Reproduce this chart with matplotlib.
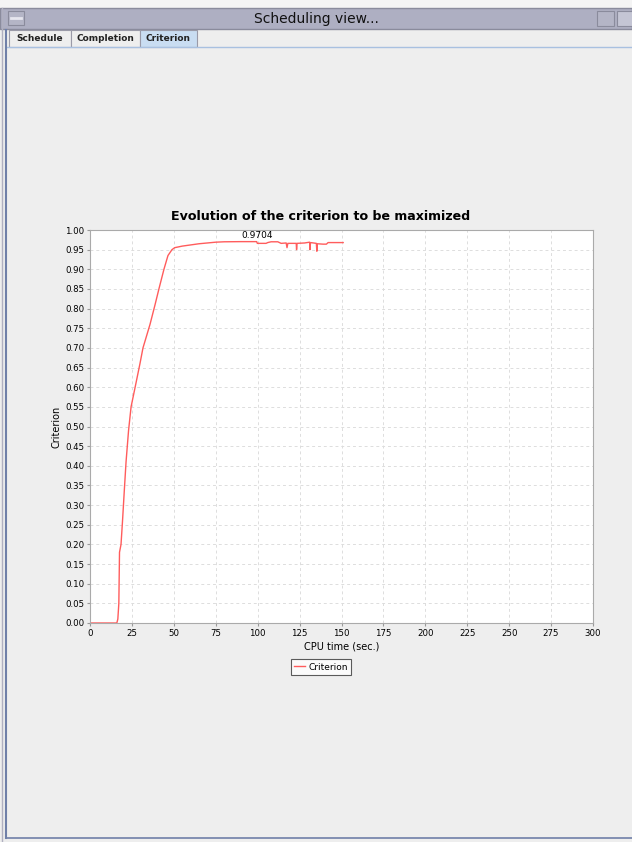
import matplotlib
matplotlib.use("Agg")
import matplotlib.pyplot as plt
from matplotlib.patches import Rectangle

# values
cpu_time = [0, 16.0, 16.6, 17.2, 17.6, 18.5, 19.4, 20.5, 21.5, 23.0, 24.5, 27.4, 29.8,
            31.6, 35.8, 38.8, 41.1, 44.1, 46.5, 48.9, 50.5, 55, 60, 65, 70, 75, 80, 90,
            99.4, 99.8, 105, 106, 108, 112, 114, 117, 117.5, 118, 123, 123.2, 123.5,
            128, 131, 131.2, 131.5, 135, 135.3, 135.6, 139, 141, 142, 151]
criterion = [0, 0, 0.01, 0.05, 0.18, 0.20, 0.26, 0.34, 0.41, 0.49, 0.55, 0.61, 0.66,
             0.70, 0.76, 0.81, 0.85, 0.90, 0.935, 0.95, 0.955, 0.959, 0.962, 0.965, 0.967,
             0.969, 0.970, 0.9704, 0.9704, 0.966, 0.966, 0.968, 0.970, 0.970, 0.966,
             0.967, 0.955, 0.966, 0.966, 0.950, 0.966, 0.967, 0.969, 0.950, 0.968,
             0.966, 0.946, 0.965, 0.964, 0.964, 0.968, 0.968]
best_time = 99.4
best_value = 0.9704
tabs = ["Schedule", "Completion", "Criterion"]

W, H = 632, 842
fig = plt.figure(figsize=(W / 100, H / 100), dpi=100)
fig.patch.set_facecolor("#eeeeee")

# window chrome drawn in pixel coordinates
bg = fig.add_axes([0, 0, 1, 1])
bg.set_xlim(0, W)
bg.set_ylim(H, 0)
bg.axis("off")
bg.add_patch(Rectangle((0, 0), W, 8, color="#f4f4f4"))
bg.add_patch(Rectangle((0, 8), W, 21, facecolor="#aeafc2", edgecolor="#8a8b9c", lw=1))
bg.add_patch(Rectangle((8, 11), 16, 14, facecolor="#b4b5c6", edgecolor="#8a8b9c", lw=0.8))
bg.plot([11, 21], [18, 18], color="#e6e6ee", lw=2)
bg.add_patch(Rectangle((597, 11), 17, 15, facecolor="#b4b5c6", edgecolor="#8a8b9c", lw=0.8))
bg.add_patch(Rectangle((617, 11), 16, 15, facecolor="#c4c5d4", edgecolor="#8a8b9c", lw=0.8))
bg.text(W / 2, 19, "Scheduling view...", ha="center", va="center", fontsize=10, color="#111111")
tab_x = [9, 71, 140, 197]
for i, name in enumerate(tabs):
    fc = "#c9ddf2" if name == "Criterion" else "#eeeeee"
    bg.add_patch(Rectangle((tab_x[i], 30), tab_x[i + 1] - tab_x[i], 17, facecolor=fc,
                           edgecolor="#9a9aa8", lw=0.8))
    bg.text((tab_x[i] + tab_x[i + 1]) / 2, 38.5, name, ha="center", va="center",
            fontsize=6.5, fontweight="bold", color="#222222")
bg.plot([6, W], [47, 47], color="#a8c0e0", lw=1)
bg.plot([6, 6], [30, 838], color="#6f7fa8", lw=1.5)
bg.plot([6, W], [838, 838], color="#6f7fa8", lw=1.2)
bg.plot([2, 2], [8, 842], color="#b0b0c0", lw=1)

# chart title is centred on the panel, not on the plot area
bg.text(321, 217, "Evolution of the criterion to be maximized", ha="center", va="center",
        fontsize=9.1, fontweight="bold", color="#000000")

ax = fig.add_axes([90 / W, 1 - 623 / H, 503 / W, 393 / H])
ax.set_facecolor("white")
ax.plot(cpu_time, criterion, color="#ff5c5c", lw=1, label="Criterion")
ax.text(best_time, best_value + 0.004, "0.9704", ha="center", va="bottom", fontsize=6.5)
ax.set_xlim(0, 300)
ax.set_ylim(0, 1)
ax.set_xticks(range(0, 301, 25))
ax.set_yticks([i / 20 for i in range(21)])
ax.set_yticklabels(["%.2f" % (i / 20) for i in range(21)])
ax.tick_params(labelsize=6.2, length=2, color="#999999", pad=2)
ax.grid(True, color="#dddddd", linestyle=(0, (3, 3)), lw=0.7)
for s in ax.spines.values():
    s.set_color("#aaaaaa")
ax.set_xlabel("CPU time (sec.)", fontsize=7, labelpad=3)
ax.set_ylabel("Criterion", fontsize=7, labelpad=3)
leg = fig.legend(loc="center", bbox_to_anchor=(321 / W, 1 - 667 / H), fontsize=6.5,
                 frameon=True, fancybox=False, handlelength=1.2, handletextpad=0.4,
                 borderpad=0.35)
leg.get_frame().set_edgecolor("#333333")
leg.get_frame().set_linewidth(0.8)

fig.savefig("out.png", dpi=100, facecolor=fig.get_facecolor())
